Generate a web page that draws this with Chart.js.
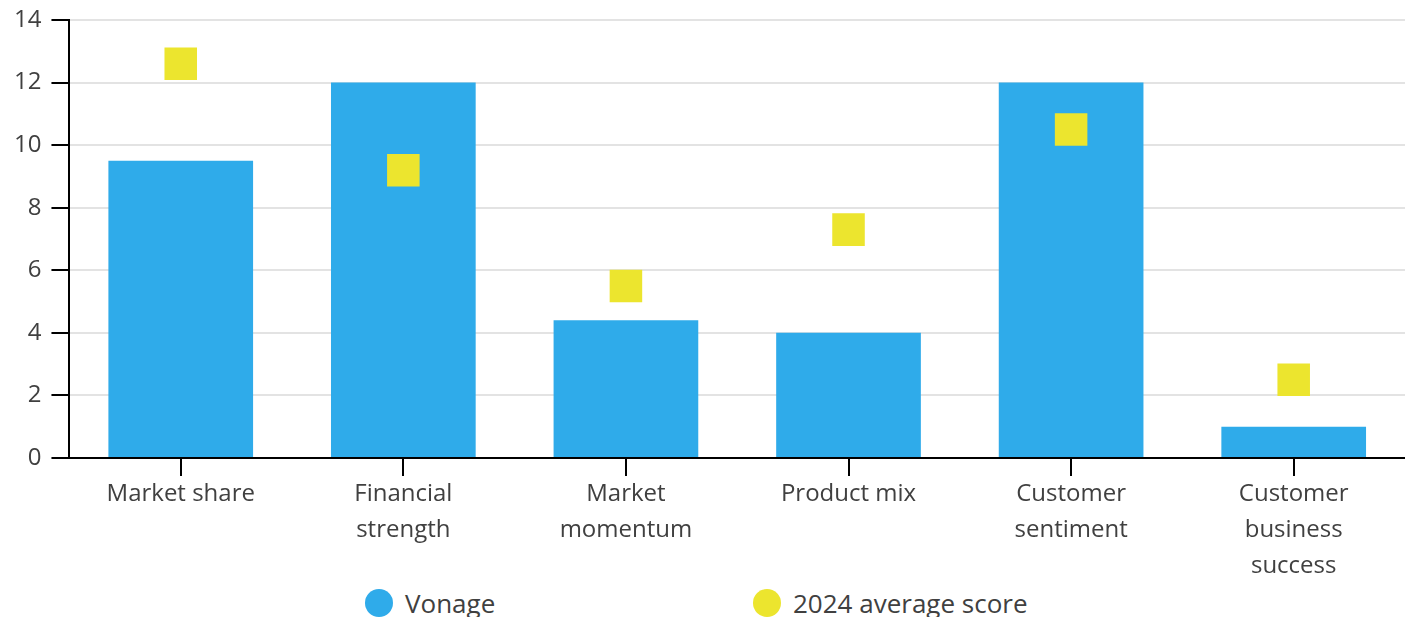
<!DOCTYPE html>
<html>
<head>
<meta charset="utf-8">
<script src="https://cdn.jsdelivr.net/npm/chart.js@4"></script>
<style>
  html, body { margin: 0; padding: 0; background: #fff; overflow: hidden; }
  #wrap { position: relative; width: 1405px; height: 584px; }
  #legend { position: absolute; top: 585px; left: 0; width: 1405px; height: 32px; overflow: hidden;
    font-family: "Open Sans", sans-serif; font-size: 26px; color: #404040; }
  .item { position: absolute; top: 0; display: flex; align-items: center; height: 36px; white-space: nowrap; }
  .dot { width: 28px; height: 28px; border-radius: 50%; margin-right: 12px; }
</style>
</head>
<body>
<div id="wrap"><canvas id="chart" width="1405" height="584"></canvas></div>
<div id="legend"></div>
<script>
// Kategorie i wartosci
const categories = [
  ["Market share"],
  ["Financial", "strength"],
  ["Market", "momentum"],
  ["Product mix"],
  ["Customer", "sentiment"],
  ["Customer", "business", "success"],
]
const vonageScores = [9.5, 12, 4.4, 4, 12, 1]
const averageScores = [12.6, 9.2, 5.5, 7.3, 10.5, 2.5]
const seriesNames = ["Vonage", "2024 average score"]
const seriesColors = ["#2fabea", "#ece52e"]

const textColor = "#404040"
const font = { family: "'Open Sans', sans-serif", size: 24 }

const config = {
  type: "bar",
  data: {
    labels: categories,
    datasets: [
      {
        label: seriesNames[0],
        data: vonageScores,
        backgroundColor: seriesColors[0],
        borderWidth: 0,
        barPercentage: 0.65,
        categoryPercentage: 1,
        order: 1,
      },
      {
        type: "line",
        label: seriesNames[1],
        data: averageScores,
        showLine: false,
        pointStyle: "rect",
        pointRadius: 23,
        pointHoverRadius: 23,
        pointBorderWidth: 0,
        pointBackgroundColor: seriesColors[1],
        borderColor: seriesColors[1],
        order: 0,
        clip: false,
      },
    ],
  },
  options: {
    responsive: false,
    animation: false,
    layout: { autoPadding: false, padding: { top: 20, left: 4, right: 0, bottom: 0 } },
    plugins: {
      legend: { display: false },
      tooltip: { enabled: false },
    },
    scales: {
      x: {
        grid: {
          offset: false,
          drawOnChartArea: false,
          tickLength: 18,
          tickColor: "#000",
          lineWidth: 2,
        },
        border: { color: "#000", width: 2 },
        ticks: { color: textColor, font: { ...font, lineHeight: 1.5 }, padding: 0, maxRotation: 0, autoSkip: false },
      },
      y: {
        min: 0,
        max: 14,
        grid: {
          color: "#e3e3e3",
          lineWidth: 2,
          tickLength: 18,
          tickColor: "#000",
        },
        border: { color: "#000", width: 2 },
        ticks: { stepSize: 2, color: textColor, font: { ...font, lineHeight: 0.6 }, padding: 10 },
      },
    },
  },
}

const chart = new Chart(document.getElementById("chart"), config)

// Legenda w HTML
const legendPos = [365, 753]
const legend = document.getElementById("legend")
seriesNames.forEach((name, i) => {
  const item = document.createElement("div")
  item.className = "item"
  item.style.left = legendPos[i] + "px"
  item.innerHTML = `<span class="dot" style="background:${seriesColors[i]}"></span>${name}`
  legend.appendChild(item)
})
</script>
</body>
</html>
